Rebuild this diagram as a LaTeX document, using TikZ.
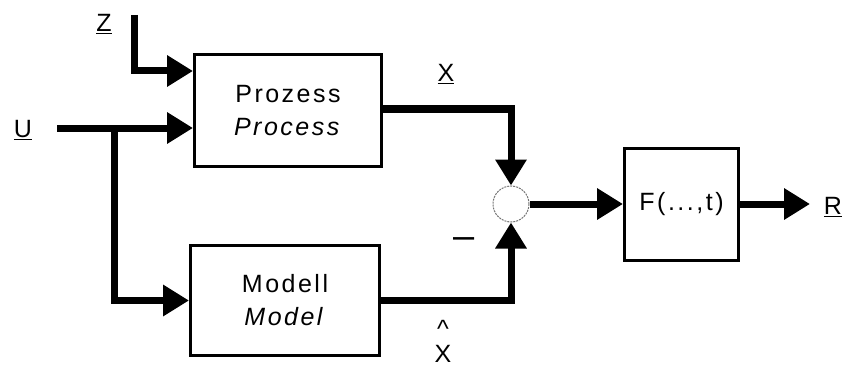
\documentclass[tikz,border=0pt]{standalone}
\usepackage{fontspec}
\setmainfont{Liberation Sans}
\newfontfamily\lblfont[LetterSpace=10]{Liberation Sans}
\usetikzlibrary{arrows.meta}

\begin{document}
\begin{tikzpicture}[x=1pt,y=-1pt,
		font=\lblfont\fontsize{25}{33}\selectfont,
		block/.style={draw,line width=3pt,align=center,inner sep=0pt},
		sig/.style={line width=7pt,-{Triangle[length=26pt,width=30pt]}},
		sum/.style={circle,draw=black!55,dash pattern=on 2pt off 1pt,line width=1pt,minimum size=36pt,inner sep=0pt}]
		
		\useasboundingbox (0,0) rectangle (844,369);
		
		\node[block,minimum width=187pt,minimum height=112pt] (prozess) at (288,110.5) {Prozess\\\textit{Process}};
		\node[block,minimum width=189pt,minimum height=110pt] (modell) at (285,300.5) {Modell\\\textit{Model}};
		\node[block,minimum width=114pt,minimum height=112pt] (fbox) at (681.5,204) {F(...,t)};
		\node[sum] (sum) at (511,204) {};
		
		\node (zlbl) at (104,24) {\underline{Z}};
		\node (ulbl) at (23,130) {\underline{U}};
		\node (xlbl) at (446,74) {\underline{X}};
		\node (minus) at (464,243) {\fontsize{38}{38}\selectfont\textendash};
		\node[align=center] (xhat) at (443,341) {\textasciicircum\\[-8pt]X};
		\node (rlbl) at (833,207) {\underline{R}};
		
		\coordinate (zin) at (134,15);
		\coordinate (uin) at (57,128);
		\coordinate (ast) at (114,128);
		\coordinate (rout) at (810,204);
		
		\draw[sig] (zin) |- ([yshift=39.5pt]prozess.west);
		\draw[sig] (uin) -- (prozess.west |- uin);
		\draw[sig] (ast) |- (modell.west);
		\draw[sig] ([yshift=1.5pt]prozess.east) -| (sum.north);
		\draw[sig] (modell.east) -| (sum.south);
		\draw[sig] (sum.east) -- (fbox.west);
		\draw[sig] (fbox.east) -- (rout);
		
\end{tikzpicture}
\end{document}
